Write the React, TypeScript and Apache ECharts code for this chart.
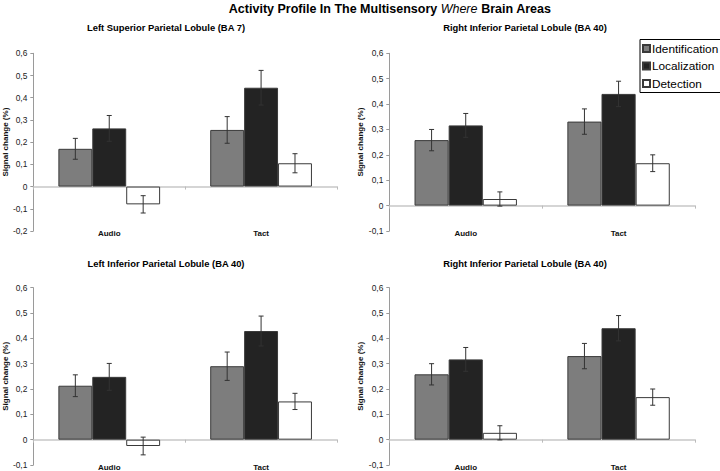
import React, { useEffect, useRef } from "react";
import * as echarts from "echarts";

const categories = ["Audio", "Tact"];
const seriesNames = ["Identification", "Localization", "Detection"];
const panelTitles = [
  "Left Superior Parietal Lobule (BA 7)",
  "Right Inferior Parietal Lobule (BA 40)",
  "Left Inferior Parietal Lobule (BA 40)",
  "Right Inferior Parietal Lobule (BA 40)",
];
const yMins = [-0.2, -0.1, -0.1, -0.1];
const yMax = 0.6;

// panel 1
const p1Ident = [0.17, 0.255];
const p1Local = [0.262, 0.445];
const p1Detect = [-0.08, 0.105];
const p1IdentErr = [0.047, 0.06];
const p1LocalErr = [0.058, 0.078];
const p1DetectErr = [0.039, 0.043];
// panel 2
const p2Ident = [0.258, 0.331];
const p2Local = [0.316, 0.44];
const p2Detect = [0.026, 0.167];
const p2IdentErr = [0.042, 0.05];
const p2LocalErr = [0.047, 0.05];
const p2DetectErr = [0.028, 0.033];
// panel 3
const p3Ident = [0.213, 0.29];
const p3Local = [0.248, 0.429];
const p3Detect = [-0.025, 0.151];
const p3IdentErr = [0.043, 0.056];
const p3LocalErr = [0.053, 0.059];
const p3DetectErr = [0.035, 0.032];
// panel 4
const p4Ident = [0.258, 0.33];
const p4Local = [0.317, 0.44];
const p4Detect = [0.027, 0.168];
const p4IdentErr = [0.042, 0.05];
const p4LocalErr = [0.047, 0.05];
const p4DetectErr = [0.028, 0.032];

const panelValues = [
  [p1Ident, p1Local, p1Detect],
  [p2Ident, p2Local, p2Detect],
  [p3Ident, p3Local, p3Detect],
  [p4Ident, p4Local, p4Detect],
];
const panelErrors = [
  [p1IdentErr, p1LocalErr, p1DetectErr],
  [p2IdentErr, p2LocalErr, p2DetectErr],
  [p3IdentErr, p3LocalErr, p3DetectErr],
  [p4IdentErr, p4LocalErr, p4DetectErr],
];

const FONT = "'Liberation Sans', Arial, sans-serif";
const barColors = ["#7d7d7d", "#232323", "#ffffff"];
const grids = [
  { left: 30, right: 383, top: 53.3, bottom: 240 },
  { left: 389.3, right: 25, top: 53.3, bottom: 240 },
  { left: 30, right: 383, top: 287.7, bottom: 4.3 },
  { left: 389.3, right: 25, top: 287.7, bottom: 4.3 },
];
const titlePos = [
  [166, 27],
  [525, 27],
  [166, 263],
  [525, 263],
];
const BAR_GAP_FRAC = 0.33;

function fmt(v: number) {
  if (Math.abs(v) < 1e-9) return "0";
  return v.toFixed(1).replace(".", ",");
}

export default function App() {
  const ref = useRef<HTMLDivElement>(null);
  useEffect(() => {
    if (!ref.current) return;
    const chart = echarts.init(ref.current, null, { renderer: "svg" });
    const xAxis: any[] = [];
    const yAxis: any[] = [];
    const series: any[] = [];
    grids.forEach((g, i) => {
      xAxis.push({
        gridIndex: i,
        type: "category",
        data: categories,
        position: "bottom",
        axisLine: { show: false, onZero: false },
        axisTick: { show: false },
        axisLabel: {
          fontFamily: FONT,
          fontWeight: "bold",
          fontSize: 8,
          color: "#111",
          margin: -2,
        },
      });
      xAxis.push({
        gridIndex: i,
        type: "category",
        data: categories,
        position: "top",
        axisLine: { show: true, onZero: true, lineStyle: { color: "#c8c8c8", width: 1.5 } },
        axisTick: { show: true, inside: true, length: 3, lineStyle: { color: "#bbb" } },
        axisLabel: { show: false },
      });
      yAxis.push({
        gridIndex: i,
        type: "value",
        min: yMins[i],
        max: yMax,
        interval: 0.1,
        name: "Signal change (%)",
        nameLocation: "middle",
        nameGap: 23,
        nameTextStyle: { fontFamily: FONT, fontWeight: "bold", fontSize: 8, color: "#111" },
        axisLine: { show: true, lineStyle: { color: "#9a9a9a", width: 1 } },
        axisTick: { show: true, length: 3, lineStyle: { color: "#9a9a9a" } },
        splitLine: { show: false },
        axisLabel: {
          fontFamily: FONT,
          fontSize: 8.4,
          color: "#222",
          margin: 6,
          formatter: (v: number) => fmt(v),
        },
      });
      seriesNames.forEach((name, k) => {
        series.push({
          type: "bar",
          name,
          xAxisIndex: 2 * i,
          yAxisIndex: i,
          data: panelValues[i][k],
          barGap: "0%",
          barCategoryGap: "33%",
          itemStyle: { color: barColors[k], borderColor: "#3a3a3a", borderWidth: 1 },
          emphasis: { disabled: true },
          z: 2,
        });
      });
      seriesNames.forEach((name, k) => {
        series.push({
          type: "custom",
          xAxisIndex: 2 * i,
          yAxisIndex: i,
          z: 5,
          silent: true,
          encode: { x: 0, y: 1 },
          data: categories.map((_, c) => [c, panelValues[i][k][c], panelErrors[i][k][c]]),
          renderItem: (params: any, api: any) => {
            const idx = api.value(0);
            const val = api.value(1);
            const err = api.value(2);
            const c = api.coord([idx, val]);
            const band = api.size([1, 0])[0];
            const w = (band * (1 - BAR_GAP_FRAC)) / 3;
            const x = c[0] + (k - 1) * w;
            const top = api.coord([idx, val + err])[1];
            const bot = api.coord([idx, val - err])[1];
            const st = { stroke: "#333", lineWidth: 1 };
            const cap = 2.5;
            return {
              type: "group",
              children: [
                { type: "line", shape: { x1: x, y1: top, x2: x, y2: bot }, style: st },
                { type: "line", shape: { x1: x - cap, y1: top, x2: x + cap, y2: top }, style: st },
                { type: "line", shape: { x1: x - cap, y1: bot, x2: x + cap, y2: bot }, style: st },
              ],
            };
          },
        });
      });
    });

    const graphic: any[] = [
      {
        type: "text",
        x: 390,
        y: 9,
        style: {
          text: "{b|Activity Profile In The Multisensory }{i|Where}{b| Brain Areas}",
          align: "center",
          verticalAlign: "middle",
          rich: {
            b: { fontFamily: FONT, fontWeight: "bold", fontSize: 12.5, fill: "#000" },
            i: { fontFamily: FONT, fontStyle: "italic", fontSize: 12.5, fill: "#000" },
          },
        },
      },
      ...panelTitles.map((t, i) => ({
        type: "text",
        x: titlePos[i][0],
        y: titlePos[i][1],
        style: {
          text: t,
          align: "center",
          verticalAlign: "middle",
          fontFamily: FONT,
          fontWeight: "bold",
          fontSize: 9.4,
          fill: "#000",
        },
      })),
    ];

    chart.setOption({
      animation: false,
      backgroundColor: "#ffffff",
      grid: grids,
      xAxis,
      yAxis,
      series,
      graphic,
      legend: {
        data: seriesNames,
        orient: "vertical",
        left: 640,
        top: 39.5,
        itemWidth: 7,
        itemHeight: 7,
        itemGap: 5.5,
        padding: [3, 8, 3, 2],
        borderColor: "#000",
        borderWidth: 1,
        backgroundColor: "#fff",
        icon: "rect",
        selectedMode: false,
        textStyle: {
          fontFamily: FONT,
          fontSize: 11.8,
          lineHeight: 12,
          color: "#000",
          padding: [0, 0, 0, -3],
        },
      },
    });
    return () => chart.dispose();
  }, []);
  return (
    <div
      ref={ref}
      style={{ position: "absolute", left: 0, top: 0, width: 720, height: 471 }}
    />
  );
}
